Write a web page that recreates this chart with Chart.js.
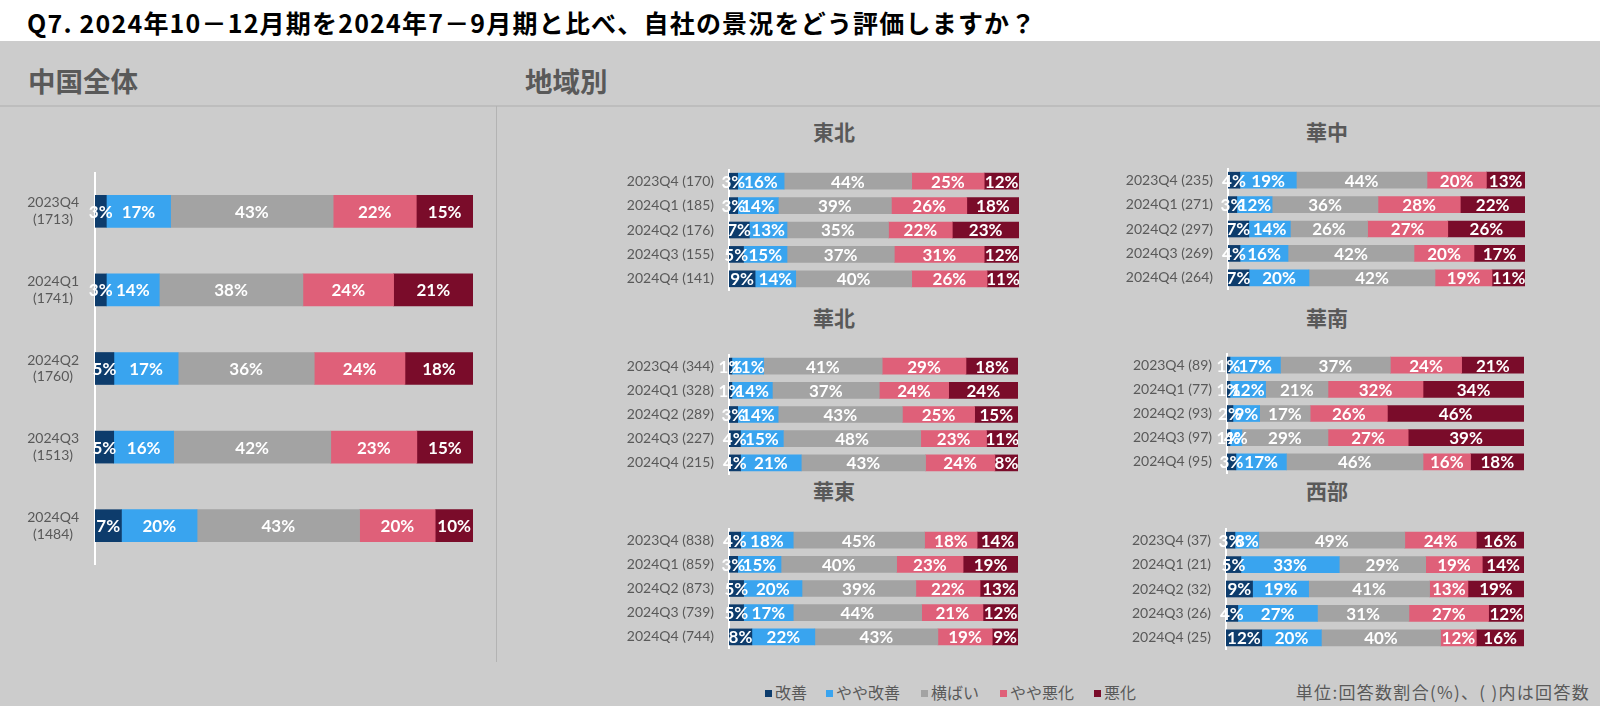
<!DOCTYPE html>
<html>
<head>
<meta charset="utf-8">
<script src="https://cdn.jsdelivr.net/npm/chart.js@4.4.1/dist/chart.umd.min.js"></script>
<style>
body { margin: 0; width: 1600px; height: 706px; background: #cccccc; position: relative; overflow: hidden; font-family: Lato, 'Noto Sans CJK JP', sans-serif; }
.abs { position: absolute; }
#topband { left: 0; top: 0; width: 1600px; height: 41px; background: #fff; }
#title { left: 27px; top: 4px; font: bold 25px 'Noto Sans CJK JP', sans-serif; color: #000; white-space: nowrap; letter-spacing: 1.2px; }
.head { font: bold 27.5px 'Noto Sans CJK JP', sans-serif; color: #595959; white-space: nowrap; }
.sub { font: bold 21px 'Noto Sans CJK JP', sans-serif; color: #595959; white-space: nowrap; transform: translateX(-50%); }
#hline { left: 0; top: 105px; width: 1600px; height: 2px; background: #bdbdbd; }
#vline { left: 496px; top: 106px; width: 1px; height: 556px; background: #b3b3b3; }
.leg { top: 680px; font: 16px 'Noto Sans CJK JP', sans-serif; color: #595959; white-space: nowrap; }
.leg i { display: inline-block; width: 7px; height: 7px; margin-right: 3px; vertical-align: 2px; }
#note { right: 10px; top: 679px; font: 17px 'Noto Sans CJK JP', sans-serif; color: #595959; white-space: nowrap; letter-spacing: 1.3px; }
</style>
</head>
<body>
<div id="topband" class="abs"></div>
<div id="title" class="abs">Q7. 2024年10－12月期を2024年7－9月期と比べ、自社の景況をどう評価しますか？</div>
<div class="abs head" style="left:28px;top:60px">中国全体</div>
<div class="abs head" style="left:525px;top:60px">地域別</div>
<div id="hline" class="abs"></div>
<div id="vline" class="abs"></div>
<div class="abs sub" style="left:834px;top:116px">東北</div>
<div class="abs sub" style="left:1327px;top:116px">華中</div>
<div class="abs sub" style="left:834px;top:302px">華北</div>
<div class="abs sub" style="left:1327px;top:302px">華南</div>
<div class="abs sub" style="left:834px;top:475px">華東</div>
<div class="abs sub" style="left:1327px;top:475px">西部</div>
<div id="note" class="abs">単位:回答数割合(%)、( )内は回答数</div>

<script>
const series = ['改善', 'やや改善', '横ばい', 'やや悪化', '悪化'];
const colors = ['#0d3c6c', '#39a4ef', '#a3a3a3', '#df6079', '#7a0c2a'];
const quarters = ['2023Q4', '2024Q1', '2024Q2', '2024Q3', '2024Q4'];

// 各行 = 四半期、値の並び = series の順
const chinaN = [1713, 1741, 1760, 1513, 1484];
const china = [[3, 17, 43, 22, 15], [3, 14, 38, 24, 21], [5, 17, 36, 24, 18], [5, 16, 42, 23, 15], [7, 20, 43, 20, 10]];

const tohokuN = [170, 185, 176, 155, 141];
const tohoku = [[3, 16, 44, 25, 12], [3, 14, 39, 26, 18], [7, 13, 35, 22, 23], [5, 15, 37, 31, 12], [9, 14, 40, 26, 11]];

const kachuN = [235, 271, 297, 269, 264];
const kachu = [[4, 19, 44, 20, 13], [3, 12, 36, 28, 22], [7, 14, 26, 27, 26], [4, 16, 42, 20, 17], [7, 20, 42, 19, 11]];

const kahokuN = [344, 328, 289, 227, 215];
const kahoku = [[1, 11, 41, 29, 18], [1, 14, 37, 24, 24], [3, 14, 43, 25, 15], [4, 15, 48, 23, 11], [4, 21, 43, 24, 8]];

const kananN = [89, 77, 93, 97, 95];
const kanan = [[1, 17, 37, 24, 21], [1, 12, 21, 32, 34], [2, 9, 17, 26, 46], [1, 4, 29, 27, 39], [3, 17, 46, 16, 18]];

const katoN = [838, 859, 873, 739, 744];
const kato = [[4, 18, 45, 18, 14], [3, 15, 40, 23, 19], [5, 20, 39, 22, 13], [5, 17, 44, 21, 12], [8, 22, 43, 19, 9]];

const seibuN = [37, 21, 32, 26, 25];
const seibu = [[3, 8, 49, 24, 16], [5, 33, 29, 19, 14], [9, 19, 41, 13, 19], [4, 27, 31, 27, 12], [12, 20, 40, 12, 16]];

// 凡例
const legendX = [765, 826, 921, 1000, 1094];
series.forEach((s, i) => {
    const d = document.createElement('div');
    d.className = 'abs leg';
    d.style.left = legendX[i] + 'px';
    d.innerHTML = `<i style="background:${colors[i]}"></i>${s}`;
    document.body.appendChild(d);
});

// バーの中央に白い％ラベル
const segLabels = {
    id: 'segLabels',
    afterDatasetsDraw(chart, args, opts) {
        const ctx = chart.ctx;
        ctx.save();
        ctx.fillStyle = '#fff';
        ctx.font = `bold ${opts.size}px Lato, sans-serif`;
        ctx.textAlign = 'center';
        ctx.textBaseline = 'middle';
        chart.data.datasets.forEach((ds, i) => {
            chart.getDatasetMeta(i).data.forEach((bar, j) => {
                const p = bar.getProps(['x', 'base', 'y'], true);
                ctx.fillText(ds.raw[j] + '%', (p.x + p.base) / 2, p.y + 1);
            });
        });
        ctx.restore();
    }
};

function drawChart(box, rows, labels, cfg) {
    const div = document.createElement('div');
    div.className = 'abs';
    div.style.cssText = `left:${box[0]}px;top:${box[1]}px;width:${box[2]}px;height:${box[3]}px`;
    const canvas = document.createElement('canvas');
    div.appendChild(canvas);
    document.body.appendChild(div);

    const sums = rows.map(r => r.reduce((a, b) => a + b, 0));
    new Chart(canvas, {
        type: 'bar',
        data: {
            labels: labels,
            datasets: series.map((s, i) => ({
                label: s,
                raw: rows.map(r => r[i]),
                data: rows.map((r, j) => r[i] / sums[j] * 100),
                backgroundColor: colors[i],
                borderWidth: 0,
                barThickness: cfg.bar
            }))
        },
        options: {
            indexAxis: 'y',
            responsive: true,
            maintainAspectRatio: false,
            animation: false,
            layout: { padding: 0 },
            plugins: {
                legend: { display: false },
                tooltip: { enabled: false },
                segLabels: { size: cfg.font }
            },
            scales: {
                x: { stacked: true, min: 0, max: 100, display: false },
                y: {
                    stacked: true,
                    afterFit: s => { s.width = cfg.axis; s.paddingTop = 0; s.paddingBottom = 0; },
                    grid: { display: false, drawTicks: false },
                    border: { display: true, color: '#ffffff', width: 2 },
                    ticks: {
                        color: '#595959',
                        padding: cfg.pad,
                        crossAlign: cfg.align,
                        font: { family: 'Lato', size: 14 }
                    }
                }
            }
        },
        plugins: [segLabels]
    });
}

const regional = { bar: 16, font: 17, axis: 129, pad: 15, align: 'near' };
const regLabels = n => quarters.map((q, i) => `${q} (${n[i]})`);

drawChart([0, 172, 473, 393], china, quarters.map((q, i) => [q, `(${chinaN[i]})`]),
    { bar: 32, font: 17, axis: 95, pad: 16, align: 'center' });
drawChart([600, 169, 419, 122], tohoku, regLabels(tohokuN), regional);
drawChart([1100, 168, 425, 122], kachu, regLabels(kachuN), { ...regional, axis: 128 });
drawChart([600, 354, 418, 121], kahoku, regLabels(kahokuN), regional);
drawChart([1100, 353, 424, 121], kanan, regLabels(kananN), { ...regional, axis: 127 });
drawChart([600, 528, 418, 121], kato, regLabels(katoN), regional);
drawChart([1100, 528, 424, 122], seibu, regLabels(seibuN), { ...regional, axis: 126 });
</script>
</body>
</html>
